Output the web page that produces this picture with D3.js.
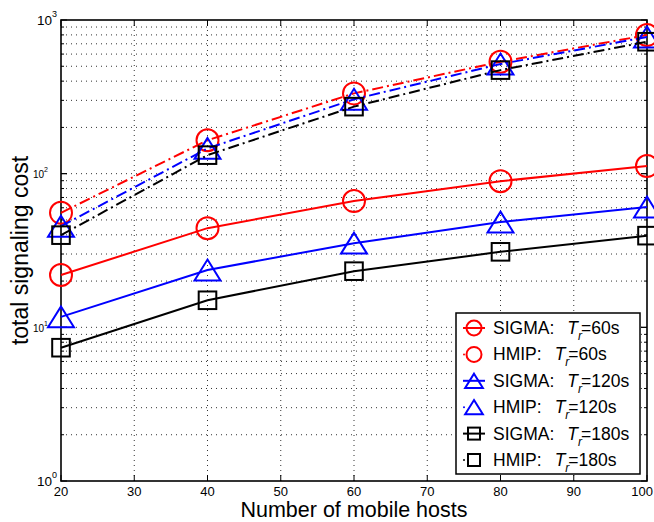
<!DOCTYPE html>
<html>
<head>
<meta charset="utf-8">
<script src="https://cdn.jsdelivr.net/npm/d3@7"></script>
<style>
  html, body { margin: 0; padding: 0; background: #fff; }
  svg { display: block; font-family: "Liberation Sans", Arial, Helvetica, sans-serif; }
</style>
</head>
<body>
<svg id="chart" width="654" height="522"></svg>
<script>
// ---------------- data ----------------
const hosts = [20, 40, 60, 80, 100];
const sigma60  = [21.9, 44.2, 66.3, 89.4, 112];
const hmip60   = [55.6, 165, 333, 535, 798];
const sigma120 = [11.7, 23.6, 35.3, 48.4, 60.6];
const hmip120  = [45.5, 146, 305, 517, 775];
const sigma180 = [7.37, 15.0, 23.2, 31.0, 39.5];
const hmip180  = [39.8, 132, 273, 472, 722];
const xTicks = [20, 30, 40, 50, 60, 70, 80, 90, 100];
const yDecades = [1, 10, 100, 1000];
const yExponents = ["0", "1", "2", "3"];
const seriesProtocol = ["SIGMA", "HMIP", "SIGMA", "HMIP", "SIGMA", "HMIP"];
const seriesTr = ["60s", "60s", "120s", "120s", "180s", "180s"];
const seriesValues = [sigma60, hmip60, sigma120, hmip120, sigma180, hmip180];
const seriesColor = ["#ff0000", "#ff0000", "#0000ff", "#0000ff", "#000000", "#000000"];
const seriesMarker = ["circle", "circle", "triangle", "triangle", "square", "square"];
const seriesDashed = [false, true, false, true, false, true];

// ---------------- layout ----------------
const svg = d3.select("#chart");
const L = 61, R = 647, T = 20, B = 481;
const x = d3.scaleLinear().domain([20, 100]).range([L, R]);
const y = d3.scaleLog().domain([1, 1000]).range([B, T]);

// grid
const grid = svg.append("g").attr("stroke", "#333").attr("stroke-width", 1)
  .attr("stroke-dasharray", "1,4");
xTicks.filter(v => v > 20 && v < 100).forEach(v => {
  grid.append("line").attr("x1", x(v)).attr("x2", x(v)).attr("y1", T).attr("y2", B);
});
const minorVals = [];
for (let d = 1; d < 1000; d *= 10) for (let k = 1; k <= 10; k++) {
  const v = d * k; if (v > 1 && v < 1000) minorVals.push(v);
}
const uniqMinor = Array.from(new Set(minorVals));
uniqMinor.forEach(v => {
  grid.append("line").attr("x1", L).attr("x2", R).attr("y1", y(v)).attr("y2", y(v));
});

// axes box with inner ticks
const ax = svg.append("g").attr("stroke", "#000").attr("stroke-width", 1);
xTicks.forEach(v => {
  ax.append("line").attr("x1", x(v)).attr("x2", x(v)).attr("y1", B).attr("y2", B - 6);
  ax.append("line").attr("x1", x(v)).attr("x2", x(v)).attr("y1", T).attr("y2", T + 6);
});
uniqMinor.concat(yDecades).forEach(v => {
  const major = yDecades.includes(v);
  const len = major ? 6 : 3;
  ax.append("line").attr("x1", L).attr("x2", L + len).attr("y1", y(v)).attr("y2", y(v));
  ax.append("line").attr("x1", R).attr("x2", R - len).attr("y1", y(v)).attr("y2", y(v));
});
svg.append("rect").attr("x", L).attr("y", T).attr("width", R - L).attr("height", B - T)
  .attr("fill", "none").attr("stroke", "#000").attr("stroke-width", 1.6);

// x tick labels (last one kept inside the window)
svg.append("g").selectAll("text").data(xTicks).join("text")
  .attr("x", d => d === 100 ? 653 : x(d)).attr("y", 495.5)
  .attr("text-anchor", d => d === 100 ? "end" : "middle")
  .attr("font-size", 13).attr("fill", "#000").text(d => d);

// y tick labels (10^n)
yDecades.forEach((v, i) => {
  const big = (i === 0 || i === 3);
  const fs = big ? 13.5 : 10;
  const sfs = big ? 9 : 7;
  const right = big ? 57 : 48;
  const yy = y(v) + (big ? (i === 0 ? 4.5 : 5) : 4.5);
  const t = svg.append("text").attr("text-anchor", "end").attr("x", right).attr("y", yy)
    .attr("fill", "#000");
  t.append("tspan").attr("font-size", fs).text("10");
  t.append("tspan").attr("font-size", sfs).attr("dy", big ? -8 : -6).text(yExponents[i]);
});

// axis titles
svg.append("text").attr("x", (L + R) / 2).attr("y", 516.5).attr("text-anchor", "middle")
  .attr("font-size", 21.5).attr("fill", "#000").text("Number of mobile hosts");
svg.append("text").attr("transform", `translate(28,${(T + B) / 2}) rotate(-90)`)
  .attr("text-anchor", "middle").attr("font-size", 23).attr("fill", "#000")
  .text("total signaling cost");

// markers
function drawMarker(g, type, cx, cy, color, size) {
  if (type === "circle") {
    g.append("circle").attr("cx", cx).attr("cy", cy).attr("r", size)
      .attr("fill", "none").attr("stroke", color).attr("stroke-width", 2);
  } else if (type === "triangle") {
    const w = size * 1.18, h = size * 0.95;
    g.append("path").attr("d", `M${cx},${cy - h} L${cx + w},${cy + h} L${cx - w},${cy + h} Z`)
      .attr("fill", "none").attr("stroke", color).attr("stroke-width", 2);
  } else {
    const s = size * 0.8;
    g.append("rect").attr("x", cx - s).attr("y", cy - s).attr("width", 2 * s).attr("height", 2 * s)
      .attr("fill", "none").attr("stroke", color).attr("stroke-width", 2);
  }
}

const line = d3.line().x(d => x(d[0])).y(d => y(d[1]));
const plot = svg.append("g");
seriesValues.forEach((vals, i) => {
  const g = plot.append("g");
  const pts = hosts.map((h, j) => [h, vals[j]]);
  g.append("path").attr("d", line(pts)).attr("fill", "none")
    .attr("stroke", seriesColor[i]).attr("stroke-width", 2)
    .attr("stroke-dasharray", seriesDashed[i] ? "11,4,2,4" : null);
  pts.forEach(p => drawMarker(g, seriesMarker[i], x(p[0]), y(p[1]), seriesColor[i], 11));
});

// legend
const lg = svg.append("g");
lg.append("rect").attr("x", 456).attr("y", 313).attr("width", 184).attr("height", 161)
  .attr("fill", "#fff").attr("stroke", "#000").attr("stroke-width", 1.5);
seriesProtocol.forEach((p, i) => {
  const cy = 328 + i * 26.4;
  const g = lg.append("g");
  if (seriesDashed[i]) {
    g.append("circle").attr("cx", 464).attr("cy", cy).attr("r", 1).attr("fill", seriesColor[i]);
  } else {
    g.append("line").attr("x1", 463).attr("x2", 485).attr("y1", cy).attr("y2", cy)
      .attr("stroke", seriesColor[i]).attr("stroke-width", 2);
  }
  drawMarker(g, seriesMarker[i], 474, cy, seriesColor[i], 7.5);
  const t = g.append("text").attr("x", 493).attr("y", cy + 6).attr("font-size", 17.5)
    .attr("fill", "#000");
  t.append("tspan").text(p + ":");
  t.append("tspan").attr("dx", 13).attr("font-style", "italic").text("T");
  t.append("tspan").attr("dy", 6).attr("font-size", 12).attr("font-style", "italic").text("r");
  t.append("tspan").attr("dy", -6).attr("dx", -1).text("=" + seriesTr[i]);
});
</script>
</body>
</html>
